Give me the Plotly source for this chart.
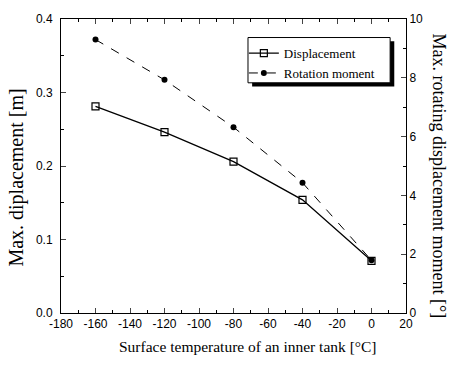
import plotly.graph_objects as go

temps = [-160, -120, -80, -40, 0]
displacement = [0.281, 0.246, 0.206, 0.154, 0.071]
rotation = [9.3, 7.93, 6.32, 4.43, 1.79]

x_ticks = list(range(-180, 21, 20))
x_ticktext = [str(v) for v in x_ticks]
y_ticks = [0.0, 0.1, 0.2, 0.3, 0.4]
y2_ticks = [0, 2, 4, 6, 8, 10]

fig = go.Figure()
fig.add_trace(go.Scatter(
    x=temps, y=displacement, name="Displacement", mode="lines+markers",
    line=dict(color="black", width=1.3),
    marker=dict(symbol="square-open", size=7, color="black", line=dict(width=1.2)),
))
fig.add_trace(go.Scatter(
    x=temps, y=rotation, name="Rotation moment", mode="lines+markers", yaxis="y2",
    line=dict(color="black", width=1, dash="dash"),
    marker=dict(symbol="circle", size=6, color="black"),
))

tickfont = dict(family="Liberation Sans, Arial", size=12, color="black")
serif = "Liberation Serif, Times New Roman"

fig.update_layout(
    width=450, height=365,
    margin=dict(l=61, r=44, t=13, b=52),
    paper_bgcolor="white", plot_bgcolor="white",
    showlegend=True,
    legend=dict(
        x=0.53, y=0.935, xanchor="left", yanchor="top",
        bgcolor="rgba(0,0,0,0)", borderwidth=0,
        font=dict(family=serif, size=13, color="black"),
        itemwidth=30, tracegroupgap=0,
    ),
    xaxis=dict(
        range=[-180, 20], tickvals=x_ticks, ticktext=x_ticktext,
        ticks="inside", ticklen=5,
        showline=True, linecolor="black", linewidth=1, mirror="ticks",
        showgrid=False, zeroline=False, tickfont=tickfont,
        minor=dict(dtick=10, ticks="inside", ticklen=3, tickcolor="black"),
    ),
    yaxis=dict(
        range=[0, 0.4], tickvals=y_ticks, tickformat=".1f", ticks="inside", ticklen=5,
        showline=True, linecolor="black", linewidth=1, ticklabelstandoff=5,
        showgrid=False, zeroline=False, tickfont=tickfont,
        minor=dict(dtick=0.05, ticks="inside", ticklen=3, tickcolor="black"),
    ),
    yaxis2=dict(
        range=[0, 10], tickvals=y2_ticks, overlaying="y", side="right",
        ticks="inside", ticklen=5,
        showline=True, linecolor="black", linewidth=1,
        showgrid=False, zeroline=False, tickfont=tickfont,
        minor=dict(dtick=1, ticks="inside", ticklen=3, tickcolor="black"),
    ),
    annotations=[
        dict(text="Max. rotating displacement moment [°]", textangle=90,
             xref="paper", yref="paper", x=1.095, y=0.465,
             xanchor="center", yanchor="middle", showarrow=False,
             font=dict(family=serif, size=18, color="black")),
        dict(text="Max. diplacement [m]", textangle=-90,
             xref="paper", yref="paper", x=-0.128, y=0.46,
             xanchor="center", yanchor="middle", showarrow=False,
             font=dict(family=serif, size=20, color="black")),
        dict(text="Surface temperature of an inner tank [°C]",
             xref="paper", yref="paper", x=0.542, y=-0.113,
             xanchor="center", yanchor="middle", showarrow=False,
             font=dict(family=serif, size=15.5, color="black")),
    ],
    shapes=[
        dict(type="rect", xref="paper", yref="paper",
             x0=0.554, x1=0.966, y0=0.770, y1=0.924,
             line=dict(width=0), fillcolor="black", layer="above"),
        dict(type="rect", xref="paper", yref="paper",
             x0=0.542, x1=0.954, y0=0.783, y1=0.937,
             line=dict(width=1, color="black"), fillcolor="white", layer="above"),
    ],
)

fig.write_html("out.html")
